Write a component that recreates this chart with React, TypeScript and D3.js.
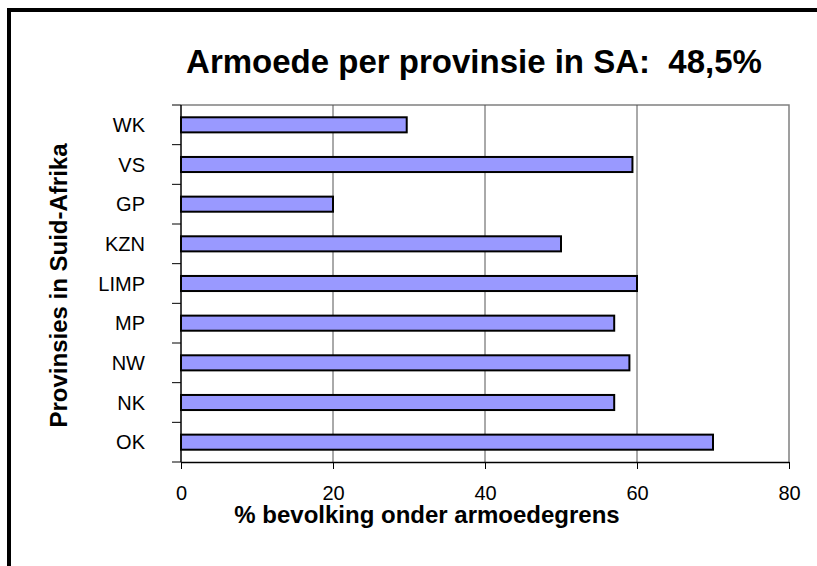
import * as React from "react"
import { select, scaleLinear, scaleBand, axisBottom } from "d3"

const provinces = ["WK", "VS", "GP", "KZN", "LIMP", "MP", "NW", "NK", "OK"]
const poverty = [29.7, 59.4, 20, 50, 60, 57, 59, 57, 70]
const xTicks = [0, 20, 40, 60, 80]
const chartTitle = "Armoede per provinsie in SA:  48,5%"
const xTitle = "% bevolking onder armoedegrens"
const yTitle = "Provinsies in Suid-Afrika"

const FONT = "'Liberation Sans', Arial, sans-serif"

function PovertyChart() {
  const svgRef = React.useRef<SVGSVGElement>(null)

  const width = 817
  const height = 566
  const margin = { top: 105, right: 28, bottom: 104, left: 181 }

  React.useEffect(() => {
    const svg = select(svgRef.current)
    svg.selectAll("*").remove()

    const x = scaleLinear()
      .domain([0, 80])
      .range([margin.left, width - margin.right])

    const y = scaleBand()
      .domain(provinces)
      .range([margin.top, height - margin.bottom])
      .paddingInner(0.62)
      .paddingOuter(0.31)

    const plotBottom = height - margin.bottom
    const step = y.step()

    // outer frame (only top/left visible in the picture)
    svg
      .append("rect")
      .attr("x", 9)
      .attr("y", 10)
      .attr("width", width + 20)
      .attr("height", height + 20)
      .attr("fill", "none")
      .attr("stroke", "#000")
      .attr("stroke-width", 4)

    // plot frame (top + right gray)
    svg
      .append("path")
      .attr(
        "d",
        `M${x(0)},${margin.top}H${x(80)}V${plotBottom}`
      )
      .attr("fill", "none")
      .attr("stroke", "#808080")
      .attr("stroke-width", 1.5)

    // gridlines
    svg
      .append("g")
      .selectAll("line")
      .data(xTicks.filter((d) => d > 0 && d < 80))
      .join("line")
      .attr("x1", (d) => x(d))
      .attr("x2", (d) => x(d))
      .attr("y1", margin.top)
      .attr("y2", plotBottom)
      .attr("stroke", "#555")
      .attr("stroke-width", 1)

    // bars
    svg
      .append("g")
      .selectAll("rect")
      .data(provinces)
      .join("rect")
      .attr("x", x(0))
      .attr("y", (d) => y(d)!)
      .attr("width", (d, i) => x(poverty[i]) - x(0))
      .attr("height", y.bandwidth())
      .attr("fill", "#9999FF")
      .attr("stroke", "#000")
      .attr("stroke-width", 2)

    // bottom axis
    const xAxis = svg
      .append("g")
      .attr("transform", `translate(0, ${plotBottom})`)
      .call(axisBottom(x).tickValues(xTicks).tickSize(7).tickPadding(17).tickSizeOuter(0))
    xAxis.select(".domain").attr("stroke", "#000").attr("stroke-width", 1.5)
    xAxis.selectAll(".tick line").attr("stroke", "#000")
    xAxis
      .selectAll(".tick text")
      .attr("font-family", FONT)
      .attr("font-size", 20)
      .attr("fill", "#000")

    // left axis: line, boundary ticks, labels
    svg
      .append("line")
      .attr("x1", x(0))
      .attr("x2", x(0))
      .attr("y1", margin.top)
      .attr("y2", plotBottom)
      .attr("stroke", "#000")
      .attr("stroke-width", 1.5)

    const boundaries = provinces
      .map((d) => y(d)! - (step - y.bandwidth()) / 2)
      .concat([plotBottom])
    svg
      .append("g")
      .selectAll("line")
      .data(boundaries)
      .join("line")
      .attr("x1", x(0) - 9)
      .attr("x2", x(0))
      .attr("y1", (d) => d)
      .attr("y2", (d) => d)
      .attr("stroke", "#000")
      .attr("stroke-width", 1)

    svg
      .append("g")
      .selectAll("text")
      .data(provinces)
      .join("text")
      .attr("x", x(0) - 36)
      .attr("y", (d) => y(d)! + y.bandwidth() / 2)
      .attr("dy", "0.36em")
      .attr("text-anchor", "end")
      .attr("font-family", FONT)
      .attr("font-size", 20)
      .text((d) => d)

    // titles
    svg
      .append("text")
      .attr("x", 474)
      .attr("y", 73)
      .attr("text-anchor", "middle")
      .attr("font-family", FONT)
      .attr("font-weight", "bold")
      .attr("font-size", 33)
      .style("white-space", "pre")
      .text(chartTitle)

    svg
      .append("text")
      .attr("x", 427)
      .attr("y", 523)
      .attr("text-anchor", "middle")
      .attr("font-family", FONT)
      .attr("font-weight", "bold")
      .attr("font-size", 24)
      .text(xTitle)

    svg
      .append("text")
      .attr("transform", `translate(67, ${(margin.top + plotBottom) / 2 + 2}) rotate(-90)`)
      .attr("text-anchor", "middle")
      .attr("font-family", FONT)
      .attr("font-weight", "bold")
      .attr("font-size", 24)
      .text(yTitle)
  }, [])

  return (
    <svg
      ref={svgRef}
      width={width}
      height={height}
      style={{ position: "absolute", left: 0, top: 0, background: "#fff" }}
    ></svg>
  )
}

export default function App() {
  return <PovertyChart />
}
